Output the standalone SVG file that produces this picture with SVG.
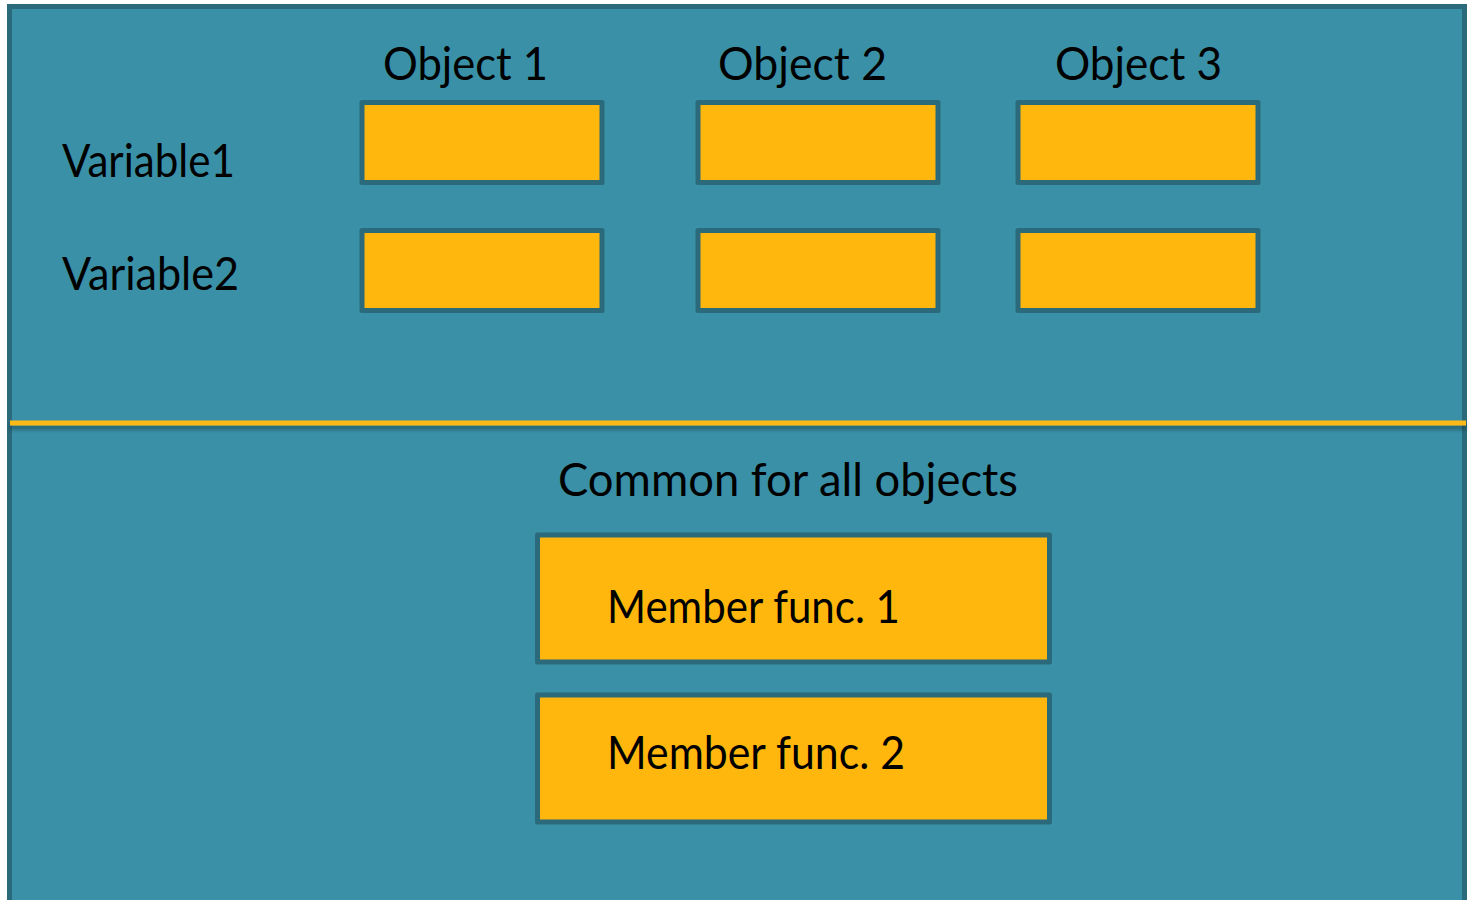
<svg xmlns="http://www.w3.org/2000/svg" width="1474" height="900" viewBox="0 0 1474 900">
  <style>
    .panel { fill: #3a90a7; stroke: #2a6a7b; stroke-width: 5; }
    .cell { fill: #ffb70d; stroke: #2a6a7b; stroke-width: 5; stroke-linejoin: round; }
    .label { font-family: Lato, "Open Sans", "Liberation Sans", sans-serif; font-size: 46px; fill: #000; }
  </style>
  <defs>
    <filter id="lineShadow" filterUnits="userSpaceOnUse" x="0" y="400" width="1474" height="50">
      <feGaussianBlur in="SourceAlpha" stdDeviation="2"/>
      <feOffset dy="4"/>
      <feComponentTransfer><feFuncA type="linear" slope="0.35"/></feComponentTransfer>
      <feMerge><feMergeNode/><feMergeNode in="SourceGraphic"/></feMerge>
    </filter>
  </defs>

  <rect width="1474" height="900" fill="#ffffff"/>

  <!-- class panel -->
  <g id="panel">
    <rect class="panel" x="9.5" y="6.5" width="1455" height="910"/>
  </g>

  <!-- divider between per-object data and shared functions -->
  <g id="divider">
    <rect x="10" y="420.5" width="1456" height="5" fill="#fdb913" filter="url(#lineShadow)"/>
  </g>

  <!-- column headings -->
  <g id="headings">
    <text class="label" x="383" y="80" textLength="165" lengthAdjust="spacingAndGlyphs">Object 1</text>
    <text class="label" x="718" y="80" textLength="169" lengthAdjust="spacingAndGlyphs">Object 2</text>
    <text class="label" x="1055" y="80" textLength="167" lengthAdjust="spacingAndGlyphs">Object 3</text>
  </g>

  <!-- row labels -->
  <g id="rows">
    <text class="label" x="62" y="177" textLength="173" lengthAdjust="spacingAndGlyphs">Variable1</text>
    <text class="label" x="62" y="290" textLength="177" lengthAdjust="spacingAndGlyphs">Variable2</text>
  </g>

  <!-- variable cells, one per object -->
  <g id="obj1-var1"><rect class="cell" x="362" y="102.5" width="240" height="80"/></g>
  <g id="obj2-var1"><rect class="cell" x="698" y="102.5" width="240" height="80"/></g>
  <g id="obj3-var1"><rect class="cell" x="1018" y="102.5" width="240" height="80"/></g>
  <g id="obj1-var2"><rect class="cell" x="362" y="230.5" width="240" height="80"/></g>
  <g id="obj2-var2"><rect class="cell" x="698" y="230.5" width="240" height="80"/></g>
  <g id="obj3-var2"><rect class="cell" x="1018" y="230.5" width="240" height="80"/></g>

  <!-- shared section -->
  <g id="common-title">
    <text class="label" x="558" y="496" textLength="460" lengthAdjust="spacingAndGlyphs">Common for all objects</text>
  </g>

  <g id="member-func-1">
    <rect class="cell" x="537.5" y="535" width="512" height="127"/>
    <text class="label" x="607" y="623" textLength="293" lengthAdjust="spacingAndGlyphs">Member func. 1</text>
  </g>

  <g id="member-func-2">
    <rect class="cell" x="537.5" y="695" width="512" height="127"/>
    <text class="label" x="607" y="769" textLength="298" lengthAdjust="spacingAndGlyphs">Member func. 2</text>
  </g>

  <g id="connectors"></g>
</svg>
